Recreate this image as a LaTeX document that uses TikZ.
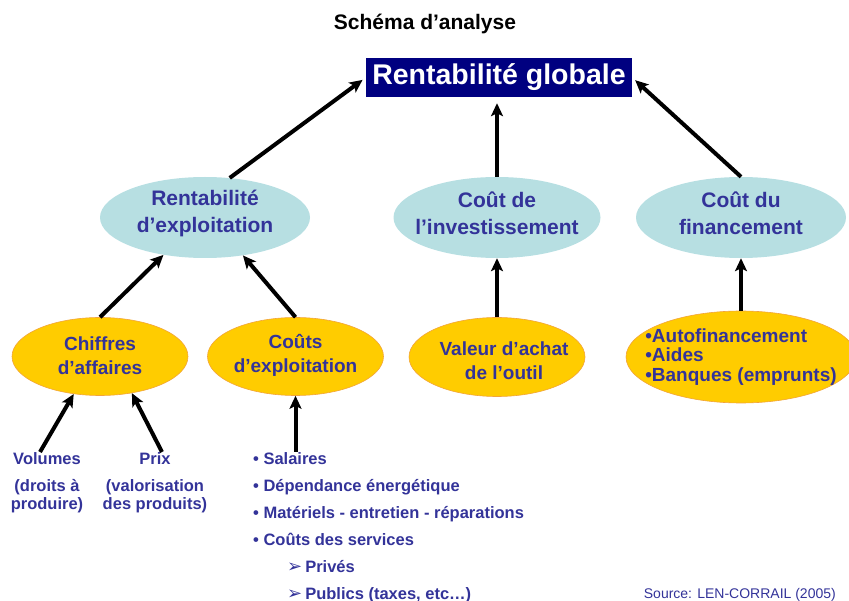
\documentclass[tikz,border=0pt]{standalone}
\usepackage{fontspec}
\setmainfont{Liberation Sans}
\newfontfamily\dingfont{DejaVu Sans}
\usetikzlibrary{arrows.meta,shapes.geometric}
\definecolor{labelblue}{HTML}{333399}
\definecolor{boxnavy}{HTML}{000080}
\definecolor{ellblue}{HTML}{B7DFE2}
\definecolor{ellyellow}{HTML}{FFCC00}
\definecolor{ellrim}{HTML}{F2A43A}
\newcommand{\subpoint}{\hspace*{34pt}{\dingfont\fontsize{18}{18}\selectfont ➢}\hspace{3pt}}
\begin{document}
\begin{tikzpicture}[x=1pt,y=-1pt,
  flow/.style={-{Stealth[length=13pt,width=12pt,inset=3pt]},line width=4pt},
  blueell/.style={ellipse,fill=ellblue,minimum width=210pt,minimum height=81pt,inner sep=0pt},
  yellowell/.style={ellipse,fill=ellyellow,draw=ellrim,line width=0.6pt,minimum width=176pt,minimum height=78pt,inner sep=0pt},
  bluetext/.style={text=labelblue,font=\bfseries\fontsize{21}{27}\selectfont,align=center,inner sep=0pt},
  yellowtext/.style={text=labelblue,font=\bfseries\fontsize{19}{24}\selectfont,align=center,inner sep=0pt},
  listtext/.style={text=labelblue,font=\bfseries\fontsize{16.5}{18}\selectfont,align=center,inner sep=0pt}]
\useasboundingbox (0,0) rectangle (849,601);
% title and top box
\node[font=\bfseries\fontsize{21}{24}\selectfont] (title) at (425,24) {Schéma d’analyse};
\node[fill=boxnavy,text=white,font=\bfseries\fontsize{28.5}{30}\selectfont,
  minimum width=266pt,minimum height=39pt,inner sep=0pt] (global) at (499,77.5) {Rentabilité globale};
% second level
\node[blueell,label={[bluetext,yshift=4pt]center:{Rentabilité\\d’exploitation}}] (rexp) at (205,217.5) {};
\node[blueell,minimum width=207pt,label={[bluetext,yshift=4pt]center:{Coût de\\l’investissement}}] (invest) at (497,217.5) {};
\node[blueell,label={[bluetext,yshift=4pt]center:{Coût du\\financement}}] (fin) at (741,217.5) {};
% third level
\node[yellowell,label={[yellowtext,yshift=1pt]center:{Chiffres\\d’affaires}}] (chiffres) at (100,356.5) {};
\node[yellowell,label={[yellowtext,yshift=1pt]center:{Coûts\\d’exploitation}}] (couts) at (295.5,356.5) {};
\node[yellowell,minimum height=79pt,label={[yellowtext,xshift=7pt,yshift=-4pt]center:{Valeur d’achat\\de l’outil}}] (valeur) at (497,357) {};
\node[yellowell,minimum width=230pt,minimum height=92pt,
  label={[yellowtext,align=left,font=\bfseries\fontsize{19}{19.5}\selectfont]center:{\textbullet Autofinancement\\\textbullet Aides\\\textbullet Banques (emprunts)}}] (financ) at (741,357) {};
% bottom texts
\node[listtext,anchor=north] (volumes) at (47,452) {Volumes\\[9pt](droits à\\produire)};
\node[listtext,anchor=north] (prix) at (155,452) {Prix\\[9pt](valorisation\\des produits)};
\node[listtext,align=left,anchor=north west,font=\bfseries\fontsize{16.5}{27}\selectfont] (clist) at (253,452)
  {\textbullet\ Salaires\\
   \textbullet\ Dépendance énergétique\\
   \textbullet\ Matériels - entretien - réparations\\
   \textbullet\ Coûts des services\\
   \subpoint Privés\\
   \subpoint Publics (taxes, etc…)};
\node[text=labelblue,font=\fontsize{14}{16}\selectfont,anchor=base east,inner sep=0pt] (source) at (836,598) {Source: LEN-CORRAIL (2005)};
% arrows
\draw[flow] (rexp.58) -- (global.west) [shorten >=4pt];
\draw[flow] (invest.north) -- ([yshift=-6pt]invest.north |- global.south);
\draw[flow] (fin.north) -- (global.east) [shorten >=4pt];
\draw[flow] (chiffres.north) -- (rexp.222);
\draw[flow] (couts.north) -- (rexp.315);
\draw[flow] (valeur.north) -- (invest.south);
\draw[flow] (financ.north) -- (fin.south);
\draw[flow] ([xshift=-7pt]volumes.north) -- (chiffres.235);
\draw[flow] ([xshift=7pt]prix.north) -- (chiffres.311);
\draw[flow] (couts.south |- clist.north) -- (couts.south);
\end{tikzpicture}
\end{document}
